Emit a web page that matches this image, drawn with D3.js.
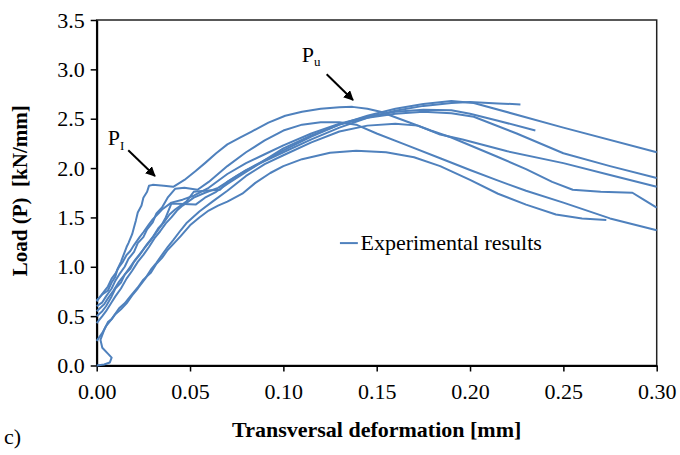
<!DOCTYPE html>
<html>
<head>
<meta charset="utf-8">
<script src="https://cdn.jsdelivr.net/npm/d3@7"></script>
<style>
  body { margin: 0; background: #fff; }
  text { font-family: "Liberation Serif", "Times New Roman", serif; fill: #000; }
</style>
</head>
<body>
<div id="chart"></div>
<script>
// tick values
let xTicks = [0, 0.05, 0.10, 0.15, 0.20, 0.25, 0.30];
let yTicks = [0, 0.5, 1.0, 1.5, 2.0, 2.5, 3.0, 3.5];

// specimen curves, [deformation mm, load kN/mm]
let spec1 = [[0,0.66],[0.003,0.72],[0.006,0.76],[0.008,0.84],[0.01,0.9],[0.011,0.97],[0.013,1.05],[0.014,1.1],[0.016,1.2],[0.017,1.24],[0.019,1.33],[0.02,1.4],[0.021,1.47],[0.022,1.55],[0.024,1.62],[0.025,1.7],[0.027,1.76],[0.028,1.82],[0.03,1.83],[0.036,1.82],[0.041,1.81],[0.047,1.88],[0.053,1.97],[0.058,2.05],[0.064,2.15],[0.07,2.24],[0.077,2.31],[0.083,2.37],[0.092,2.46],[0.101,2.53],[0.11,2.57],[0.12,2.6],[0.13,2.615],[0.137,2.62],[0.145,2.6],[0.152,2.57],[0.165,2.48],[0.179,2.38],[0.19,2.31],[0.214,2.12],[0.23,1.99],[0.244,1.86],[0.255,1.78],[0.27,1.76],[0.287,1.75],[0.293,1.68],[0.30,1.60]];
let spec2 = [[0,0.6],[0.003,0.64],[0.005,0.7],[0.008,0.78],[0.01,0.86],[0.012,0.92],[0.015,1.0],[0.017,1.08],[0.02,1.15],[0.022,1.24],[0.025,1.3],[0.027,1.38],[0.03,1.45],[0.032,1.54],[0.035,1.6],[0.038,1.7],[0.042,1.79],[0.047,1.8],[0.054,1.78],[0.06,1.86],[0.07,2.02],[0.08,2.16],[0.09,2.28],[0.1,2.38],[0.11,2.44],[0.12,2.465],[0.13,2.465],[0.139,2.44],[0.15,2.35],[0.165,2.24],[0.184,2.10],[0.2,1.98],[0.214,1.88],[0.23,1.77],[0.25,1.65],[0.275,1.49],[0.30,1.37]];
let spec3 = [[0,0.0],[0.004,0.01],[0.007,0.03],[0.008,0.08],[0.006,0.12],[0.003,0.18],[0.002,0.26],[0.004,0.36],[0.006,0.44],[0.008,0.47],[0.012,0.58],[0.015,0.63],[0.018,0.70],[0.022,0.79],[0.025,0.87],[0.029,0.94],[0.032,1.03],[0.035,1.09],[0.038,1.17],[0.042,1.25],[0.045,1.31],[0.05,1.42],[0.055,1.5],[0.06,1.57],[0.065,1.62],[0.07,1.66],[0.078,1.74],[0.085,1.85],[0.093,1.95],[0.1,2.02],[0.11,2.09],[0.125,2.155],[0.139,2.175],[0.155,2.16],[0.17,2.11],[0.184,2.02],[0.2,1.88],[0.215,1.74],[0.23,1.63],[0.246,1.53],[0.26,1.49],[0.273,1.475]];
let spec4 = [[0,0.55],[0.004,0.62],[0.006,0.68],[0.009,0.76],[0.012,0.85],[0.015,0.92],[0.018,1.0],[0.021,1.08],[0.024,1.15],[0.027,1.23],[0.03,1.3],[0.033,1.39],[0.036,1.45],[0.039,1.53],[0.042,1.58],[0.048,1.66],[0.052,1.76],[0.058,1.77],[0.066,1.78],[0.07,1.86],[0.08,1.98],[0.09,2.07],[0.1,2.16],[0.115,2.29],[0.13,2.41],[0.145,2.51],[0.16,2.58],[0.175,2.63],[0.19,2.66],[0.2,2.67],[0.215,2.655],[0.227,2.645]];
let spec5 = [[0,0.43],[0.003,0.5],[0.005,0.55],[0.008,0.64],[0.01,0.7],[0.013,0.78],[0.016,0.88],[0.019,0.96],[0.022,1.05],[0.025,1.12],[0.028,1.2],[0.031,1.29],[0.034,1.36],[0.037,1.44],[0.04,1.5],[0.043,1.57],[0.046,1.62],[0.052,1.7],[0.058,1.75],[0.065,1.8],[0.075,1.92],[0.085,2.03],[0.1,2.18],[0.115,2.32],[0.13,2.44],[0.145,2.53],[0.16,2.6],[0.175,2.65],[0.19,2.68],[0.202,2.66],[0.25,2.41],[0.30,2.16]];
let spec6 = [[0,0.65],[0.002,0.7],[0.004,0.75],[0.006,0.8],[0.008,0.88],[0.01,0.93],[0.012,1.0],[0.014,1.05],[0.016,1.12],[0.018,1.16],[0.02,1.22],[0.023,1.3],[0.025,1.35],[0.028,1.43],[0.03,1.48],[0.033,1.54],[0.035,1.58],[0.04,1.65],[0.046,1.68],[0.052,1.72],[0.06,1.8],[0.07,1.94],[0.08,2.05],[0.09,2.14],[0.1,2.23],[0.115,2.35],[0.13,2.45],[0.145,2.52],[0.16,2.57],[0.175,2.59],[0.19,2.585],[0.2,2.55],[0.215,2.48],[0.235,2.38]];
let spec7 = [[0,0.5],[0.003,0.55],[0.005,0.6],[0.008,0.7],[0.01,0.78],[0.013,0.84],[0.015,0.92],[0.018,0.98],[0.02,1.05],[0.023,1.12],[0.026,1.2],[0.029,1.27],[0.032,1.35],[0.035,1.43],[0.037,1.5],[0.04,1.64],[0.053,1.63],[0.058,1.7],[0.064,1.76],[0.07,1.84],[0.08,1.96],[0.09,2.08],[0.1,2.2],[0.115,2.33],[0.13,2.44],[0.145,2.51],[0.16,2.55],[0.175,2.57],[0.19,2.555],[0.202,2.52],[0.225,2.35],[0.25,2.15],[0.275,2.02],[0.30,1.90]];
let spec8 = [[0,0.25],[0.003,0.33],[0.005,0.4],[0.008,0.47],[0.01,0.52],[0.013,0.57],[0.016,0.63],[0.019,0.71],[0.022,0.78],[0.026,0.88],[0.029,0.97],[0.032,1.04],[0.035,1.12],[0.038,1.2],[0.041,1.27],[0.045,1.37],[0.048,1.44],[0.055,1.56],[0.062,1.66],[0.07,1.77],[0.08,1.92],[0.09,2.04],[0.1,2.13],[0.115,2.26],[0.13,2.37],[0.145,2.43],[0.16,2.45],[0.172,2.43],[0.184,2.34],[0.196,2.29],[0.22,2.17],[0.25,2.05],[0.275,1.93],[0.30,1.81]];

let curves = [spec1, spec2, spec3, spec4, spec5, spec6, spec7, spec8];
let legendLabel = "Experimental results";

let svgWidth = 680;
let svgHeight = 455;
let margin = { top: 20, right: 23.3, bottom: 89.5, left: 96.7 };
let width = svgWidth - margin.left - margin.right;
let height = svgHeight - margin.top - margin.bottom;
let blue = "#4f81bd";

let svg = d3.select("#chart")
    .append("svg")
    .attr("width", svgWidth)
    .attr("height", svgHeight);

let defs = svg.append("defs");
defs.append("marker")
    .attr("id", "arrow")
    .attr("viewBox", "0 0 10 10")
    .attr("refX", 9).attr("refY", 5)
    .attr("markerWidth", 5).attr("markerHeight", 5)
    .attr("orient", "auto")
    .append("path")
    .attr("d", "M0,0 L10,5 L0,10 z")
    .attr("fill", "#000");

let chartGroup = svg.append("g")
    .attr("transform", `translate(${margin.left}, ${margin.top})`);

// scales
let xScale = d3.scaleLinear().domain([0, 0.30]).range([0, width]);
let yScale = d3.scaleLinear().domain([0, 3.5]).range([height, 0]);

// frame
chartGroup.append("rect")
    .attr("width", width).attr("height", height)
    .attr("fill", "none").attr("stroke", "#222").attr("stroke-width", 1.5);

// axes
let bottomAxis = d3.axisBottom(xScale).tickValues(xTicks)
    .tickFormat(d3.format(".2f")).tickSizeInner(6).tickSizeOuter(0).tickPadding(12);
let leftAxis = d3.axisLeft(yScale).tickValues(yTicks)
    .tickFormat(d3.format(".1f")).tickSizeInner(6).tickSizeOuter(0).tickPadding(6);

let xAxisG = chartGroup.append("g")
    .attr("transform", `translate(0, ${height})`)
    .call(bottomAxis);
let yAxisG = chartGroup.append("g").call(leftAxis);

[xAxisG, yAxisG].forEach(g => {
    g.select(".domain").attr("stroke", "#000").attr("stroke-width", 2);
    g.selectAll(".tick line").attr("stroke", "#000").attr("stroke-width", 1.5);
    g.selectAll(".tick text")
        .attr("font-family", "Liberation Serif")
        .attr("font-size", "22px")
        .attr("fill", "#000");
});

// curves
let line = d3.line()
    .x(d => xScale(d[0]))
    .y(d => yScale(d[1]));

chartGroup.selectAll(".curve")
    .data(curves)
    .enter()
    .append("path")
    .attr("class", "curve")
    .attr("d", line)
    .attr("fill", "none")
    .attr("stroke", blue)
    .attr("stroke-width", 2)
    .attr("stroke-linejoin", "round");

// legend
chartGroup.append("line")
    .attr("x1", xScale(0.1303)).attr("x2", xScale(0.1399))
    .attr("y1", yScale(1.24)).attr("y2", yScale(1.24))
    .attr("stroke", blue).attr("stroke-width", 2);
chartGroup.append("text")
    .attr("x", xScale(0.1413)).attr("y", yScale(1.24) + 7)
    .attr("font-size", "22px")
    .text(legendLabel);

// annotations P_I and P_u
let pI = chartGroup.append("text")
    .attr("x", xScale(0.0059)).attr("y", yScale(2.23))
    .attr("font-size", "22px");
pI.append("tspan").text("P");
pI.append("tspan").attr("font-size", "13px").attr("dy", 5).text("I");

chartGroup.append("line")
    .attr("x1", xScale(0.0169)).attr("y1", yScale(2.18))
    .attr("x2", xScale(0.0312)).attr("y2", yScale(1.92))
    .attr("stroke", "#000").attr("stroke-width", 2)
    .attr("marker-end", "url(#arrow)");

let pU = chartGroup.append("text")
    .attr("x", xScale(0.1099)).attr("y", yScale(3.07))
    .attr("font-size", "22px");
pU.append("tspan").text("P");
pU.append("tspan").attr("font-size", "13px").attr("dy", 4).text("u");

chartGroup.append("line")
    .attr("x1", xScale(0.1232)).attr("y1", yScale(2.95))
    .attr("x2", xScale(0.1373)).attr("y2", yScale(2.69))
    .attr("stroke", "#000").attr("stroke-width", 2)
    .attr("marker-end", "url(#arrow)");

// axis titles
chartGroup.append("text")
    .attr("transform", "rotate(-90)")
    .attr("x", 0 - (height / 2) + 2)
    .attr("y", 0 - margin.left + 27)
    .attr("text-anchor", "middle")
    .attr("font-weight", "bold")
    .attr("font-size", "21px")
    .style("white-space", "pre")
    .text("Load (P)  [kN/mm]");

chartGroup.append("text")
    .attr("x", width / 2)
    .attr("y", height + 71)
    .attr("text-anchor", "middle")
    .attr("font-weight", "bold")
    .attr("font-size", "22px")
    .text("Transversal deformation [mm]");

svg.append("text")
    .attr("x", 4).attr("y", 444)
    .attr("font-size", "22px")
    .text("c)");
</script>
</body>
</html>
